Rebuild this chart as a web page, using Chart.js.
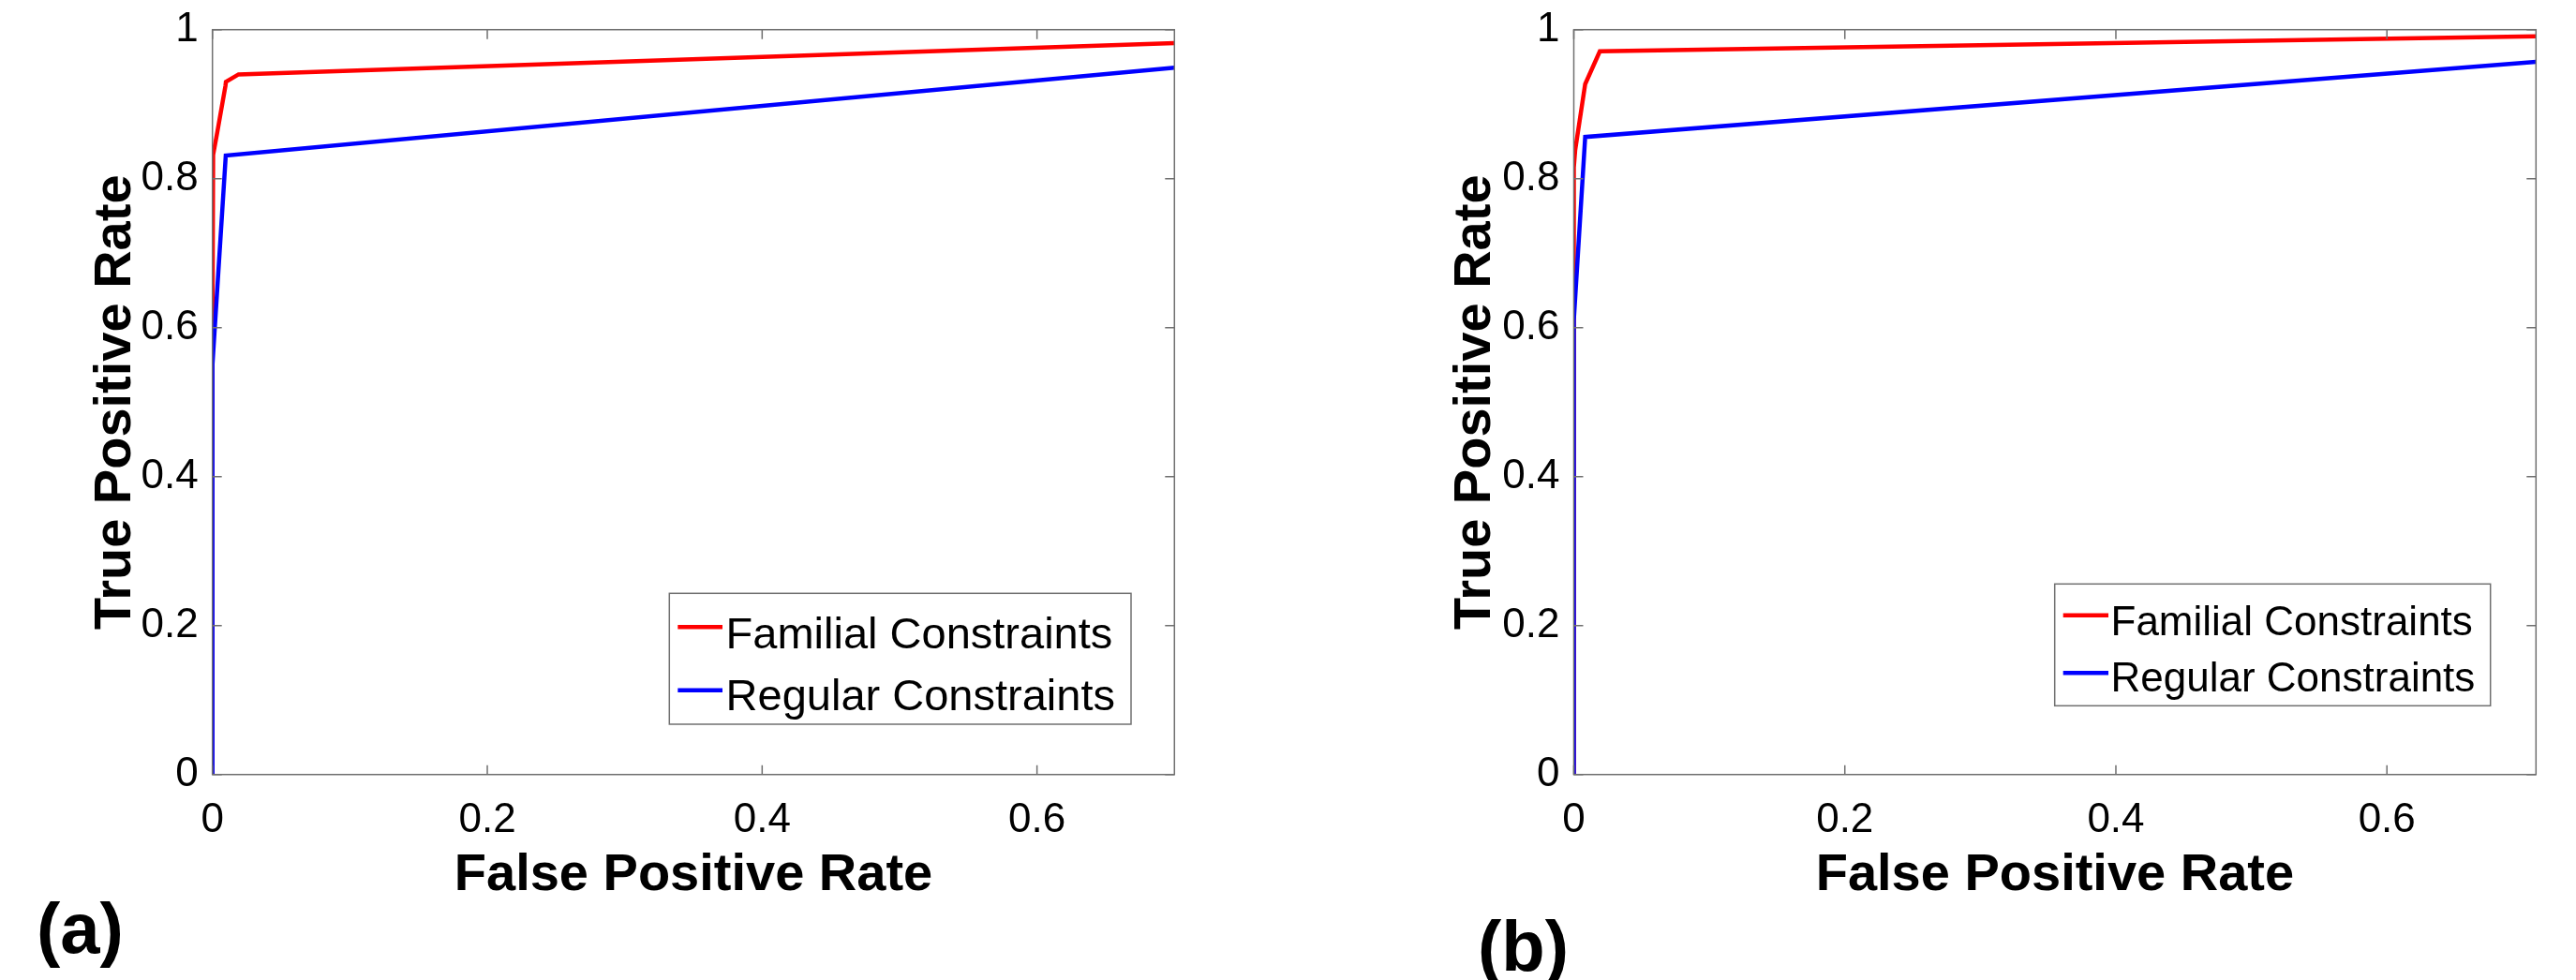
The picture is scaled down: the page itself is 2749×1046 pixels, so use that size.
<!DOCTYPE html>
<html>
<head>
<meta charset="utf-8">
<script src="https://cdn.jsdelivr.net/npm/chart.js@4.4.1/dist/chart.umd.min.js"></script>
<style>
  body { margin: 0; background: #fff; width: 2749px; height: 1046px; overflow: hidden; position: relative; }
  canvas { position: absolute; top: 0; }
  #rocA { left: 0; }
  #rocB { left: 1374px; }
</style>
</head>
<body>
<canvas id="rocA" width="1374" height="1046"></canvas>
<canvas id="rocB" width="1375" height="1046"></canvas>
<script>
const xTicks = [0, 0.2, 0.4, 0.6];
const yTicks = [0, 0.2, 0.4, 0.6, 0.8, 1];
const seriesNames = ['Familial Constraints', 'Regular Constraints'];

// panel (a)
const fprFamA = [0, 0, 0.0005, 0.0035, 0.0095, 0.0098, 0.019, 0.7];
const tprFamA = [0, 0.6, 0.832, 0.862, 0.925, 0.930, 0.940, 0.982];
const fprRegA = [0, 0, 0.0097, 0.7];
const tprRegA = [0, 0.55, 0.831, 0.949];

// panel (b)
const fprFamB = [0, 0, 0.001, 0.0084, 0.0192, 0.71];
const tprFamB = [0, 0.815, 0.838, 0.927, 0.971, 0.991];
const fprRegB = [0, 0, 0.0084, 0.71];
const tprRegB = [0, 0.61, 0.856, 0.957];

Chart.defaults.font.family = "'Liberation Sans', Arial, sans-serif";
Chart.defaults.color = '#000';

const AXIS_COLOR = '#707070';

function pts(xs, ys) {
  return xs.map((x, i) => ({ x: x, y: ys[i] }));
}

// box, inward ticks, legend and panel letter
const framePlugin = {
  id: 'frame',
  afterDatasetsDraw(chart, args, opts) {
    const { ctx, chartArea: a, scales: { x, y } } = chart;
    ctx.save();
    ctx.strokeStyle = AXIS_COLOR;
    ctx.lineWidth = 1.5;
    ctx.strokeRect(a.left, a.top, a.right - a.left, a.bottom - a.top);
    ctx.beginPath();
    x.ticks.forEach(t => {
      const px = x.getPixelForValue(t.value);
      ctx.moveTo(px, a.bottom); ctx.lineTo(px, a.bottom - 10);
      ctx.moveTo(px, a.top); ctx.lineTo(px, a.top + 10);
    });
    y.ticks.forEach(t => {
      const py = y.getPixelForValue(t.value);
      ctx.moveTo(a.left, py); ctx.lineTo(a.left + 10, py);
      ctx.moveTo(a.right, py); ctx.lineTo(a.right - 10, py);
    });
    ctx.stroke();

    // legend
    const lg = opts.legend;
    ctx.fillStyle = '#fff';
    ctx.fillRect(lg.x, lg.y, lg.w, lg.h);
    ctx.strokeStyle = AXIS_COLOR;
    ctx.lineWidth = 1.5;
    ctx.strokeRect(lg.x, lg.y, lg.w, lg.h);
    ctx.font = lg.size + "px 'Liberation Sans', Arial, sans-serif";
    ctx.textBaseline = 'alphabetic';
    ctx.textAlign = 'left';
    chart.data.datasets.forEach((ds, i) => {
      const row = lg.rows[i];
      ctx.strokeStyle = ds.borderColor;
      ctx.lineWidth = 4.5;
      ctx.beginPath();
      ctx.moveTo(lg.x + lg.line0, lg.y + row.line);
      ctx.lineTo(lg.x + lg.line1, lg.y + row.line);
      ctx.stroke();
      ctx.fillStyle = '#000';
      ctx.fillText(ds.label, lg.x + lg.textX, lg.y + row.base);
    });

    // panel letter
    ctx.font = "bold 76px 'Liberation Sans', Arial, sans-serif";
    ctx.fillStyle = '#000';
    ctx.fillText(opts.tag.text, opts.tag.x, opts.tag.y);
    ctx.restore();
  }
};

function makeROC(id, fam, reg, cfg) {
  new Chart(document.getElementById(id), {
    type: 'scatter',
    data: {
      datasets: [
        { label: seriesNames[0], data: fam, borderColor: '#ff0000', order: 1 },
        { label: seriesNames[1], data: reg, borderColor: '#0000ff', order: 0 }
      ]
    },
    options: {
      responsive: false,
      animation: false,
      showLine: true,
      clip: 0,
      elements: {
        line: { borderWidth: 4.5, tension: 0, fill: false },
        point: { radius: 0, hoverRadius: 0 }
      },
      layout: { padding: { top: 31.7, right: cfg.padRight, bottom: 0, left: 0 } },
      plugins: {
        legend: { display: false },
        tooltip: { enabled: false },
        frame: { legend: cfg.legend, tag: cfg.tag }
      },
      scales: {
        x: {
          type: 'linear',
          min: 0,
          max: cfg.xMax,
          grid: { display: false },
          border: { display: false },
          afterBuildTicks: s => { s.ticks = xTicks.map(v => ({ value: v })); },
          afterFit: s => { s.height = 219.3; },
          ticks: {
            autoSkip: false,
            maxRotation: 0,
            padding: 19,
            font: { size: 44, lineHeight: 1 },
            callback: v => String(v)
          },
          title: {
            display: true,
            text: 'False Positive Rate',
            font: { size: 56, weight: 'bold', lineHeight: 1 },
            padding: { top: 0, bottom: 83 }
          }
        },
        y: {
          type: 'linear',
          min: 0,
          max: 1,
          grid: { display: false },
          border: { display: false },
          afterBuildTicks: s => { s.ticks = yTicks.map(v => ({ value: v })); },
          afterFit: s => { s.width = cfg.yWidth; },
          ticks: {
            autoSkip: false,
            padding: 7,
            font: { size: 44, lineHeight: 1 },
            callback: v => String(v)
          },
          title: {
            display: true,
            text: 'True Positive Rate',
            font: { size: 56, weight: 'bold', lineHeight: 1 },
            padding: { top: cfg.yTitlePad, bottom: 0 }
          }
        }
      }
    },
    plugins: [framePlugin]
  });
}

makeROC('rocA', pts(fprFamA, tprFamA), pts(fprRegA, tprRegA), {
  xMax: 0.7,
  padRight: 120.7,
  yWidth: 226.7,
  yTitlePad: 95.6,
  legend: { x: 714.3, y: 633.3, w: 492.7, h: 139.7, size: 47, line0: 9, line1: 56.7, textX: 60.3,
            rows: [{ line: 36, base: 58.4 }, { line: 103.4, base: 125 }] },
  tag: { text: '(a)', x: 39, y: 1017 }
});

makeROC('rocB', pts(fprFamB, tprFamB), pts(fprRegB, tprRegB), {
  xMax: 0.71,
  padRight: 42.7,
  yWidth: 305.5,
  yTitlePad: 172.3,
  legend: { x: 818.7, y: 623.3, w: 465, h: 130, size: 44, line0: 9, line1: 57.3, textX: 59.8,
            rows: [{ line: 33.4, base: 55 }, { line: 95, base: 115 }] },
  tag: { text: '(b)', x: 203, y: 1036 }
});
</script>
</body>
</html>
